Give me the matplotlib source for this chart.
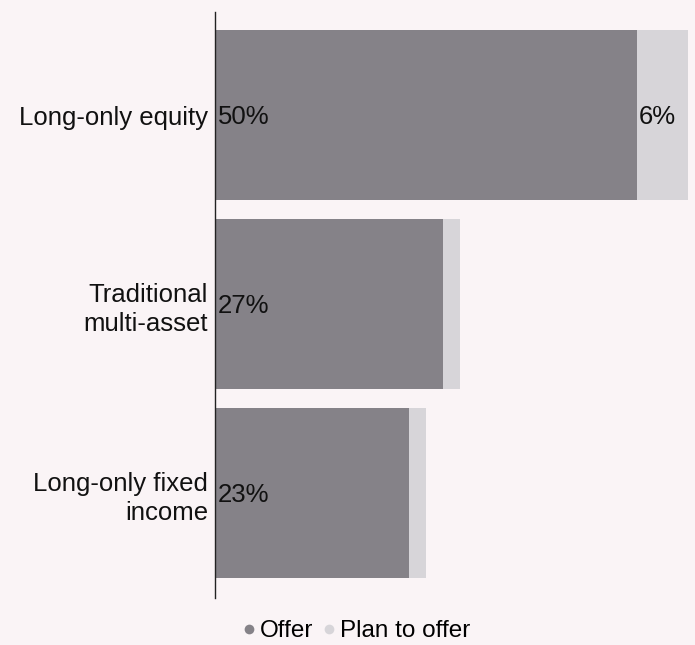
import matplotlib
matplotlib.use("Agg")
import matplotlib.pyplot as plt
from matplotlib.lines import Line2D

categories = ["Long-only equity", "Traditional\nmulti-asset", "Long-only fixed\nincome"]
offer = [50, 27, 23]
plan_to_offer = [6, 2, 2]
series_names = ["Offer", "Plan to offer"]

bg = "#FAF4F6"
c_offer = "#858288"
c_plan = "#D7D5D9"
fs = 18.5

plt.rcParams["font.family"] = ["Liberation Sans", "DejaVu Sans"]

fig = plt.figure(figsize=(6.95, 6.45), dpi=100, facecolor=bg)
ax = fig.add_axes([215 / 695, 1 - 598 / 645, 480 / 695, 586 / 645])
ax.set_facecolor(bg)

y = list(range(len(categories)))
ax.barh(y, offer, height=0.9, color=c_offer, linewidth=0)
ax.barh(y, plan_to_offer, left=offer, height=0.9, color=c_plan, linewidth=0)

ax.set_xlim(0, 480 / 8.44)
ax.set_ylim(2.555, -0.545)

for i in y:
    ax.text(0.3, i + 0.01, f"{offer[i]}%", va="center", ha="left", fontsize=fs, color="#111111")
    if plan_to_offer[i] >= 5:
        ax.text(offer[i] + 0.15, i + 0.01, f"{plan_to_offer[i]}%", va="center", ha="left",
                fontsize=fs, color="#111111")

ax.set_yticks(y)
ax.set_yticklabels(categories, fontsize=fs, color="#111111", ha="right", linespacing=1.3)
ax.tick_params(axis="y", length=0, pad=5)
ax.set_xticks([])
for s in ["top", "right", "bottom"]:
    ax.spines[s].set_visible(False)
ax.spines["left"].set_color("#222222")
ax.spines["left"].set_linewidth(1.0)

handles = [
    Line2D([], [], marker="o", linestyle="none", markersize=7, markerfacecolor=c_offer, markeredgewidth=0),
    Line2D([], [], marker="o", linestyle="none", markersize=7, markerfacecolor=c_plan, markeredgewidth=0),
]
fig.legend(handles, series_names, loc="center", bbox_to_anchor=(354 / 695, 1 - 631 / 645),
           ncol=2, frameon=False, fontsize=17.5, handletextpad=0.0, columnspacing=0.2,
           handlelength=0.9, borderaxespad=0)

fig.savefig("out.png", dpi=100, facecolor=bg)
